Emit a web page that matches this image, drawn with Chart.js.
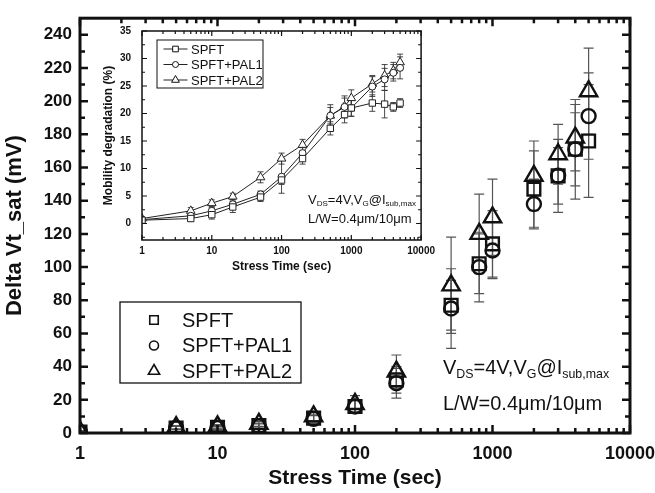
<!DOCTYPE html>
<html>
<head>
<meta charset="utf-8">
<script src="https://cdn.jsdelivr.net/npm/chart.js@4.4.0/dist/chart.umd.min.js"></script>
<style>
  html, body { margin: 0; padding: 0; background: #fff; overflow: hidden; }
  #wrap { position: relative; width: 655px; height: 493px; overflow: hidden; }
  #mainChart { position: absolute; left: 0; top: 0; }
  #insetChart { position: absolute; left: 95px; top: 14px; }
  .note { position: absolute; font-family: "Liberation Sans", Arial, sans-serif; color: #111; white-space: nowrap; }
  .note sub { font-size: 62%; vertical-align: -0.3em; line-height: 0; }
</style>
</head>
<body>
<div id="wrap">
  <canvas id="mainChart" width="680" height="493"></canvas>
  <canvas id="insetChart" width="345" height="265"></canvas>
  <div class="note" style="left:443px; top:356px; font-size:20px;">V<sub>DS</sub>=4V,V<sub>G</sub>@I<sub>sub,max</sub></div>
  <div class="note" style="left:443px; top:392px; font-size:20px;">L/W=0.4&mu;m/10&mu;m</div>
  <div class="note" style="left:308px; top:192px; font-size:13px;">V<sub>DS</sub>=4V,V<sub>G</sub>@I<sub>sub,max</sub></div>
  <div class="note" style="left:308px; top:211px; font-size:13px;">L/W=0.4&mu;m/10&mu;m</div>
</div>
<script>
const FONT = '"Liberation Sans", Arial, sans-serif';
const INK = "#111";

// stress times (sec)
const times = [1, 5, 10, 20, 50, 100, 200, 500, 800, 1000, 2000, 3000, 4000, 5000];

// main chart: Delta Vt_sat (mV)
const spftMain = [0.5, 3, 3.5, 4.5, 9, 16, 32, 77, 102, 114, 147, 155, 171, 176];
const pal1Main = [0.5, 3, 3, 4, 8.5, 16, 30, 75, 100, 110, 138, 155, 171, 191];
const pal2Main = [1, 3.5, 4, 5.5, 10, 17.5, 37, 89, 120, 130, 155, 168, 178, 206];
const spftMainErr = [0.5, 1, 1, 1.5, 2, 4, 8, 15, 18, 20, 23, 17, 22, 34];
const pal1MainErr = [0.5, 1, 1, 1.5, 2, 4, 9, 24, 21, 17, 15, 22, 30, 26];
const pal2MainErr = [0.5, 1, 1, 1.5, 2.5, 5, 10, 29, 24, 23, 21, 18, 20, 26];

// inset: mobility degradation (%)
const spftIn = [0.6, 0.9, 1.6, 3.0, 4.8, 7.9, 11.8, 17.3, 19.8, 21.0, 21.9, 21.7, 21.2, 21.9];
const pal1In = [0.7, 1.4, 2.3, 3.5, 5.3, 8.5, 12.8, 19.6, 21.2, 21.0, 24.9, 26.2, 27.4, 28.3];
const pal2In = [0.9, 2.3, 3.7, 4.9, 8.4, 11.8, 14.3, 19.6, 21.3, 22.8, 25.4, 26.9, 27.8, 29.3];
const spftInErr = [0.3, 0.5, 0.8, 1, 0.8, 0.8, 1, 1.2, 1.5, 1.5, 1.5, 2.5, 0.8, 0.8];
const pal1InErr = [0.3, 0.5, 0.6, 0.8, 0.6, 3, 1, 1.5, 2, 1.5, 1.8, 2, 1.5, 2];
const pal2InErr = [0.3, 0.6, 0.6, 0.6, 1, 1, 1, 2, 1.5, 1.5, 1.5, 2, 1.5, 1.5];

const seriesNames = ["SPFT", "SPFT+PAL1", "SPFT+PAL2"];

// axis ticks
const xTicks = [1, 10, 100, 1000, 10000];
const mainYTicks = [0, 20, 40, 60, 80, 100, 120, 140, 160, 180, 200, 220, 240];
const insetYTicks = [0, 5, 10, 15, 20, 25, 30, 35];

function toPoints(vals) {
  return times.map((t, i) => ({ x: t, y: vals[i] }));
}

function logMinors(min, max) {
  const out = [];
  for (let d = min; d < max; d *= 10) {
    for (let k = 2; k <= 9; k++) out.push(d * k);
  }
  return out;
}

function drawMarker(ctx, style, x, y, r) {
  ctx.beginPath();
  if (style === "rect") {
    const s = r * Math.SQRT1_2;
    ctx.rect(x - s, y - s, 2 * s, 2 * s);
  } else if (style === "circle") {
    ctx.arc(x, y, r, 0, Math.PI * 2);
  } else {
    for (let i = 0; i < 3; i++) {
      const a = (i * 2 * Math.PI) / 3;
      const px = x + Math.sin(a) * r, py = y - Math.cos(a) * r;
      if (i === 0) ctx.moveTo(px, py); else ctx.lineTo(px, py);
    }
    ctx.closePath();
  }
  ctx.fill();
  ctx.stroke();
}

// error bars, drawn under the markers
const errorBars = {
  id: "errorBars",
  beforeDatasetsDraw(chart, args, opts) {
    const { ctx, chartArea } = chart;
    const xs = chart.scales.x, ys = chart.scales.y;
    ctx.save();
    ctx.beginPath();
    ctx.rect(chartArea.left, chartArea.top, chartArea.width, chartArea.height);
    ctx.clip();
    ctx.strokeStyle = opts.color;
    ctx.lineWidth = opts.width;
    chart.data.datasets.forEach((ds) => {
      ds.data.forEach((p, i) => {
        const e = ds.errs[i];
        const px = xs.getPixelForValue(p.x);
        const y1 = ys.getPixelForValue(p.y - e);
        const y2 = ys.getPixelForValue(p.y + e);
        ctx.beginPath();
        ctx.moveTo(px, y1); ctx.lineTo(px, y2);
        ctx.moveTo(px - opts.cap, y1); ctx.lineTo(px + opts.cap, y1);
        ctx.moveTo(px - opts.cap, y2); ctx.lineTo(px + opts.cap, y2);
        ctx.stroke();
      });
    });
    ctx.restore();
  },
};

// box frame with inward ticks on all four sides
const frame = {
  id: "frame",
  afterDraw(chart, args, opts) {
    const { ctx, chartArea: a } = chart;
    const xs = chart.scales.x, ys = chart.scales.y;
    ctx.save();
    ctx.strokeStyle = INK;
    ctx.lineWidth = opts.tickWidth;
    const tick = (vals, len, horizontal) => {
      vals.forEach((v) => {
        ctx.beginPath();
        if (horizontal) {
          const px = xs.getPixelForValue(v);
          ctx.moveTo(px, a.bottom); ctx.lineTo(px, a.bottom - len);
          ctx.moveTo(px, a.top); ctx.lineTo(px, a.top + len);
        } else {
          const py = ys.getPixelForValue(v);
          ctx.moveTo(a.left, py); ctx.lineTo(a.left + len, py);
          ctx.moveTo(a.right, py); ctx.lineTo(a.right - len, py);
        }
        ctx.stroke();
      });
    };
    tick(opts.xMajor, opts.major, true);
    tick(opts.xMinor, opts.minor, true);
    tick(opts.yMajor, opts.major, false);
    tick(opts.yMinor, opts.minor, false);
    ctx.lineWidth = opts.lineWidth;
    ctx.strokeRect(a.left, a.top, a.width, a.height);
    ctx.restore();
  },
};

// boxed legend at a fixed spot
const boxLegend = {
  id: "boxLegend",
  afterDraw(chart, args, o) {
    const ctx = chart.ctx;
    ctx.save();
    ctx.strokeStyle = INK;
    ctx.lineWidth = o.boxWidth;
    ctx.strokeRect(o.x, o.y, o.w, o.h);
    ctx.font = o.fontSize + "px " + FONT;
    ctx.textBaseline = "middle";
    chart.data.datasets.forEach((ds, i) => {
      const cy = o.y + o.rowStart + i * o.rowGap;
      if (o.line) {
        ctx.lineWidth = 1;
        ctx.strokeStyle = "#222";
        ctx.beginPath();
        ctx.moveTo(o.markerX - o.line, cy); ctx.lineTo(o.markerX + o.line, cy);
        ctx.stroke();
      }
      ctx.strokeStyle = INK;
      ctx.lineWidth = o.markerBorder;
      ctx.fillStyle = "#fff";
      drawMarker(ctx, ds.pointStyle, o.markerX, cy, o.markerSizes[i]);
      ctx.fillStyle = INK;
      ctx.fillText(ds.label, o.textX, cy + 1);
    });
    ctx.restore();
  },
};

// ---------- main chart ----------
const mainStyles = [
  { style: "rect", r: 9 },
  { style: "circle", r: 7 },
  { style: "triangle", r: 10 },
];
const mainVals = [spftMain, pal1Main, pal2Main];
const mainErrs = [spftMainErr, pal1MainErr, pal2MainErr];

new Chart(document.getElementById("mainChart"), {
  type: "scatter",
  data: {
    datasets: seriesNames.map((name, i) => ({
      label: name,
      data: toPoints(mainVals[i]),
      errs: mainErrs[i],
      pointStyle: mainStyles[i].style,
      pointRadius: mainStyles[i].r,
      borderColor: INK,
      borderWidth: 2.4,
      backgroundColor: "rgba(0,0,0,0)",
    })),
  },
  options: {
    responsive: false,
    animation: false,
    layout: { padding: { left: 0, right: 50, top: 8, bottom: 0 } },
    plugins: {
      legend: { display: false },
      tooltip: { enabled: false },
      errorBars: { color: "#555", width: 1.2, cap: 5 },
      frame: {
        lineWidth: 3, tickWidth: 2.5, major: 8, minor: 5,
        xMajor: xTicks, xMinor: logMinors(1, 10000),
        yMajor: mainYTicks, yMinor: [10, 30, 50, 70, 90, 110, 130, 150, 170, 190, 210, 230],
      },
      boxLegend: {
        x: 120, y: 302, w: 181, h: 81, boxWidth: 1.3, fontSize: 20,
        rowStart: 18, rowGap: 25.5, markerX: 154, textX: 182,
        markerSizes: [6, 4.5, 6.5], markerBorder: 1.6, line: 0,
      },
    },
    scales: {
      x: {
        type: "logarithmic",
        min: 1,
        max: 10000,
        afterBuildTicks: (axis) => { axis.ticks = xTicks.map((v) => ({ value: v })); },
        afterFit: (axis) => { axis.height = 60; },
        grid: { display: false, drawTicks: false },
        border: { display: false },
        ticks: {
          autoSkip: false, maxRotation: 0, padding: 10, color: INK,
          font: { family: FONT, size: 18, weight: "bold" },
          callback: (v) => String(v),
        },
        title: {
          display: true, text: "Stress Time (sec)", color: INK,
          font: { family: FONT, size: 21, weight: "bold" },
          padding: { top: 0, bottom: 2 },
        },
      },
      y: {
        min: 0,
        max: 250,
        afterBuildTicks: (axis) => { axis.ticks = mainYTicks.map((v) => ({ value: v })); },
        afterFit: (axis) => { axis.width = 80; },
        grid: { display: false, drawTicks: false },
        border: { display: false },
        ticks: {
          padding: 8, color: INK,
          font: { family: FONT, size: 17, weight: "bold" },
        },
        title: {
          display: true, text: "Delta Vt_sat (mV)", color: INK,
          font: { family: FONT, size: 22, weight: "bold" },
          padding: { top: 2, bottom: 0 },
        },
      },
    },
  },
  plugins: [errorBars, frame, boxLegend],
});

// ---------- inset chart ----------
const insetStyles = [
  { style: "rect", r: 4.5 },
  { style: "circle", r: 3.5 },
  { style: "triangle", r: 5 },
];
const insetVals = [spftIn, pal1In, pal2In];
const insetErrs = [spftInErr, pal1InErr, pal2InErr];

new Chart(document.getElementById("insetChart"), {
  type: "scatter",
  data: {
    datasets: seriesNames.map((name, i) => ({
      label: name,
      data: toPoints(insetVals[i]),
      errs: insetErrs[i],
      showLine: true,
      borderColor: "#222",
      borderWidth: 1,
      pointStyle: insetStyles[i].style,
      pointRadius: insetStyles[i].r,
      pointBorderWidth: 1,
      pointBorderColor: "#222",
      pointBackgroundColor: "#fff",
    })),
  },
  options: {
    responsive: false,
    animation: false,
    layout: { padding: { left: 0, right: 12, top: 14, bottom: 0 } },
    plugins: {
      legend: { display: false },
      tooltip: { enabled: false },
      errorBars: { color: "#333", width: 0.9, cap: 3 },
      frame: {
        lineWidth: 1.5, tickWidth: 1.2, major: 5, minor: 3,
        xMajor: xTicks, xMinor: logMinors(1, 10000),
        yMajor: insetYTicks, yMinor: [-2.5, 2.5, 7.5, 12.5, 17.5, 22.5, 27.5, 32.5],
      },
      boxLegend: {
        x: 62, y: 26, w: 106, h: 48, boxWidth: 1, fontSize: 13,
        rowStart: 9, rowGap: 15.5, markerX: 80.5, textX: 96,
        markerSizes: [4, 3, 4.5], markerBorder: 1, line: 12,
      },
    },
    scales: {
      x: {
        type: "logarithmic",
        min: 1,
        max: 10000,
        afterBuildTicks: (axis) => { axis.ticks = xTicks.map((v) => ({ value: v })); },
        afterFit: (axis) => { axis.height = 39; },
        grid: { display: false, drawTicks: false },
        border: { display: false },
        ticks: {
          autoSkip: false, maxRotation: 0, padding: 5, color: INK,
          font: { family: FONT, size: 10, weight: "bold" },
          callback: (v) => String(v),
        },
        title: {
          display: true, text: "Stress Time (sec)", color: INK,
          font: { family: FONT, size: 12, weight: "bold" },
          padding: { top: 0, bottom: 5 },
        },
      },
      y: {
        min: -3,
        max: 35,
        afterBuildTicks: (axis) => { axis.ticks = insetYTicks.map((v) => ({ value: v })); },
        afterFit: (axis) => { axis.width = 47; },
        grid: { display: false, drawTicks: false },
        border: { display: false },
        ticks: {
          padding: 11, color: INK,
          font: { family: FONT, size: 10, weight: "bold" },
        },
        title: {
          display: true, text: "Mobility degradation (%)", color: INK,
          font: { family: FONT, size: 12, weight: "bold" },
          padding: { top: 6, bottom: 0 },
        },
      },
    },
  },
  plugins: [errorBars, frame, boxLegend],
});
</script>
</body>
</html>
